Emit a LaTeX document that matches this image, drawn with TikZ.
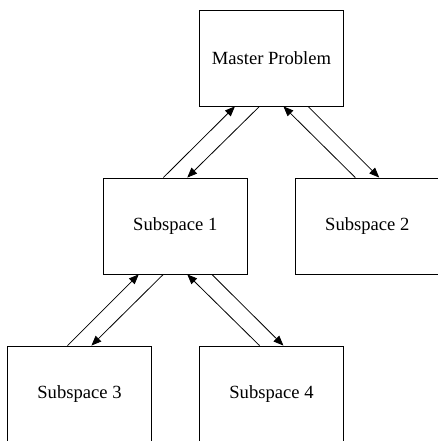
\documentclass[tikz,border=0pt]{standalone}
\usepackage{fontspec}
\setmainfont{Liberation Serif}
\usetikzlibrary{arrows.meta, positioning}

\tikzset{
  spacebox/.style={draw, line width=0.6pt, minimum width=1.5in, minimum height=1in,
    inner sep=0pt, font=\fontsize{14}{16}\selectfont},
  link/.style={line width=0.6pt, -{Triangle[length=7.5pt,width=6pt]}}
}

\begin{document}
\begin{tikzpicture}[x=1in, y=1in]
  % Page frame
  \useasboundingbox (0,0) rectangle (4.5625,-4.594);
  % Boxes
  \node[spacebox] (master) at (2.828,-0.604) {Master Problem};
  \node[spacebox] (sub1) at (1.826,-2.354) {Subspace 1};
  \node[spacebox] (sub2) at (3.826,-2.354) {Subspace 2};
  \node[spacebox] (sub3) at (0.828,-4.104) {Subspace 3};
  \node[spacebox] (sub4) at (2.828,-4.104) {Subspace 4};
  % Master <-> Subspace 1
  \draw[link] ([xshift=-9pt]sub1.north) -- ([xshift=-27.5pt]master.south);
  \draw[link] ([xshift=-9pt]master.south) -- ([xshift=9pt]sub1.north);
  % Master <-> Subspace 2
  \draw[link] ([xshift=-9pt]sub2.north) -- ([xshift=9pt]master.south);
  \draw[link] ([xshift=27.5pt]master.south) -- ([xshift=9pt]sub2.north);
  % Subspace 1 <-> Subspace 3
  \draw[link] ([xshift=-9pt]sub3.north) -- ([xshift=-27.5pt]sub1.south);
  \draw[link] ([xshift=-9pt]sub1.south) -- ([xshift=9pt]sub3.north);
  % Subspace 1 <-> Subspace 4
  \draw[link] ([xshift=-9pt]sub4.north) -- ([xshift=9pt]sub1.south);
  \draw[link] ([xshift=27.5pt]sub1.south) -- ([xshift=9pt]sub4.north);
\end{tikzpicture}
\end{document}
